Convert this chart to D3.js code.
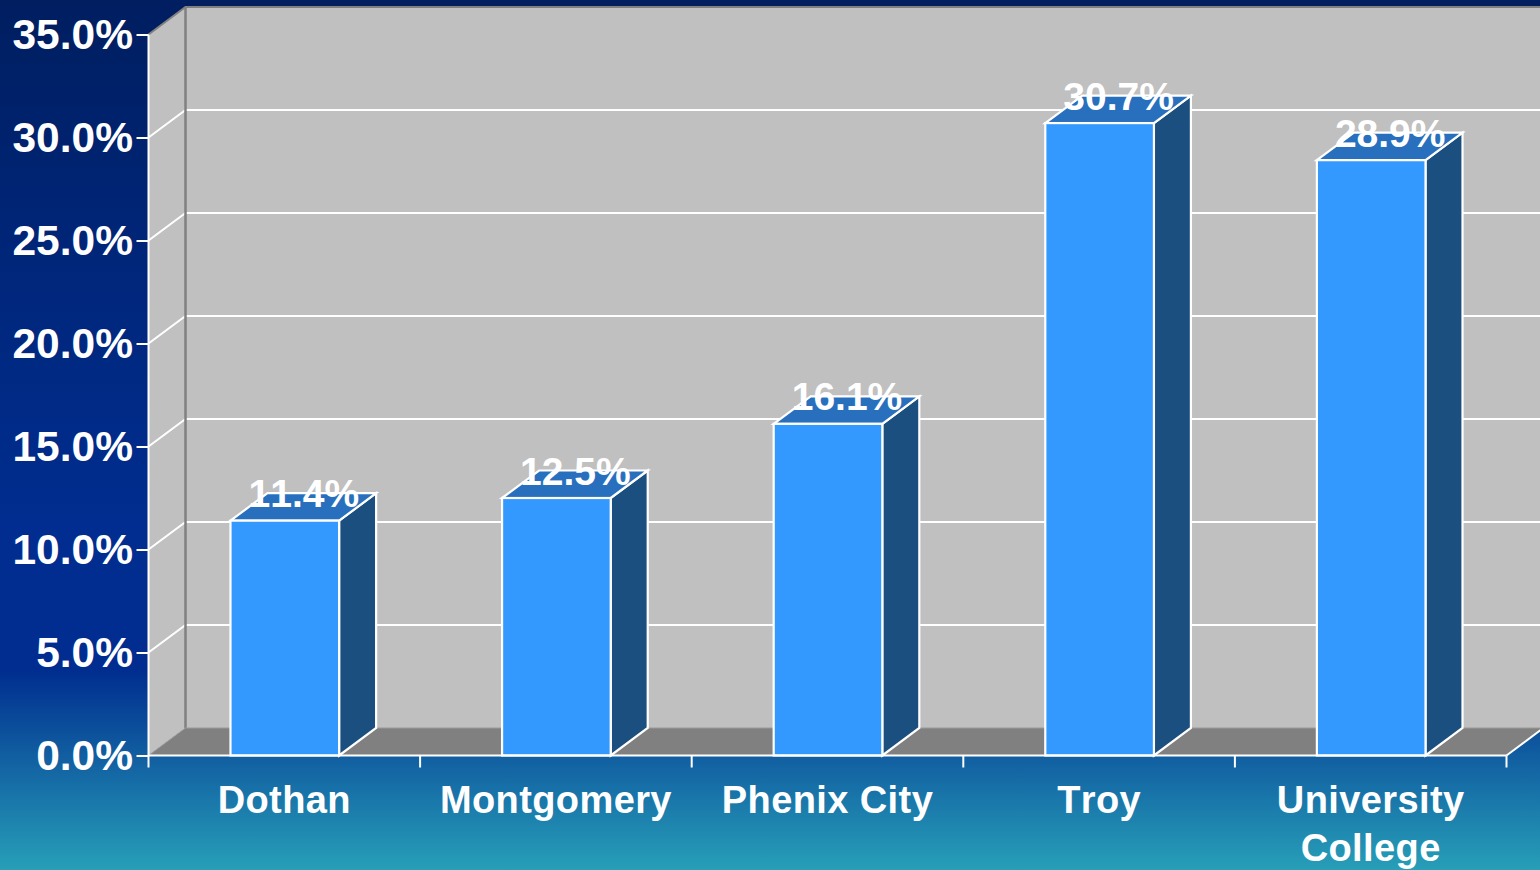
<!DOCTYPE html>
<html>
<head>
<meta charset="utf-8">
<script src="https://d3js.org/d3.v7.min.js"></script>
<style>
  html, body { margin: 0; padding: 0; overflow: hidden; }
  svg { display: block; }
  text { font-family: "Liberation Sans", Arial, sans-serif; font-weight: bold; fill: #fff; font-kerning: none; }
</style>
</head>
<body>
<div id="chart"></div>
<script>
var categories = ["Dothan", "Montgomery", "Phenix City", "Troy", "University College"];
var values = [11.4, 12.5, 16.1, 30.7, 28.9];
var labels = ["11.4%", "12.5%", "16.1%", "30.7%", "28.9%"];
var yTicks = [0, 5, 10, 15, 20, 25, 30, 35];

var width = 1540;
var height = 870;
var left = 148.5, right = 1506.5, top_ = 34.5, bottom = 755.5;
// depth of the fake 3d box
var dx = 37, dy = -27.5;

var svg = d3.select("#chart").append("svg")
  .attr("width", width)
  .attr("height", height);

var defs = svg.append("defs");
var grad = defs.append("linearGradient")
  .attr("id", "bg")
  .attr("x1", 0).attr("y1", 0).attr("x2", 0).attr("y2", 1);
[[0, "#001e60"], [0.3, "#00267a"], [0.6, "#002d8f"], [0.77, "#002d8f"], [1, "#279fb8"]].forEach(function(s) {
  grad.append("stop").attr("offset", s[0]).attr("stop-color", s[1]);
});

svg.append("rect").attr("width", width).attr("height", height).attr("fill", "url(#bg)");

var y = d3.scaleLinear().domain([0, 35]).range([bottom, top_]);
var x = d3.scaleBand().domain(categories).range([left, right]).paddingInner(0.6).paddingOuter(0.3);
var step = x.step();

var line = function(pts) { return "M" + pts.map(function(p) { return p[0] + "," + p[1]; }).join("L"); };

// walls
svg.append("path")
  .attr("d", line([[left, y(35)], [left + dx, y(35) + dy], [left + dx, y(0) + dy], [left, y(0)]]) + "Z")
  .attr("fill", "#c0c0c0");
svg.append("rect")
  .attr("x", left + dx).attr("y", y(35) + dy)
  .attr("width", width - left - dx).attr("height", y(0) - y(35))
  .attr("fill", "#c0c0c0");
// floor
svg.append("path")
  .attr("d", line([[left, y(0)], [left + dx, y(0) + dy], [right + dx, y(0) + dy], [right, y(0)]]) + "Z")
  .attr("fill", "#808080");

// gridlines, back wall and side wall
var gridTicks = yTicks.filter(function(d) { return d > 0 && d < 35; });
svg.selectAll(".grid").data(gridTicks).enter().append("path")
  .attr("class", "grid")
  .attr("d", function(d) { return line([[left, y(d)], [left + dx, y(d) + dy], [width, y(d) + dy]]); })
  .attr("fill", "none")
  .attr("stroke", "#fff")
  .attr("stroke-width", 2);

// grey edges of the box
svg.append("path")
  .attr("d", line([[left, y(35)], [left + dx, y(35) + dy], [width, y(35) + dy]]))
  .attr("fill", "none").attr("stroke", "#808080").attr("stroke-width", 2);
svg.append("path")
  .attr("d", line([[left + dx, y(35) + dy], [left + dx, y(0) + dy]]))
  .attr("fill", "none").attr("stroke", "#808080").attr("stroke-width", 2.5);
svg.append("path")
  .attr("d", line([[left + dx, y(0) + dy], [width, y(0) + dy]]))
  .attr("fill", "none").attr("stroke", "#9a9a9a").attr("stroke-width", 1);
svg.append("path")
  .attr("d", line([[left, y(0)], [left + dx, y(0) + dy]]))
  .attr("fill", "none").attr("stroke", "#a0a0a0").attr("stroke-width", 1);
svg.append("path")
  .attr("d", line([[right, y(0)], [right + dx, y(0) + dy]]))
  .attr("fill", "none").attr("stroke", "#fff").attr("stroke-width", 2);

// bars
var bars = svg.selectAll(".bar").data(values).enter().append("g").attr("class", "bar");
var barX = function(i) { return x(categories[i]) + 0.5; };
bars.append("path")
  .attr("d", function(d, i) {
    var x1 = barX(i) + x.bandwidth();
    return line([[x1, y(d)], [x1 + dx, y(d) + dy], [x1 + dx, y(0) + dy], [x1, y(0)]]) + "Z";
  })
  .attr("fill", "#1a4f80").attr("stroke", "#fff").attr("stroke-width", 2.2);
bars.append("path")
  .attr("d", function(d, i) {
    var x0 = barX(i), x1 = x0 + x.bandwidth();
    return line([[x0, y(d)], [x0 + dx, y(d) + dy], [x1 + dx, y(d) + dy], [x1, y(d)]]) + "Z";
  })
  .attr("fill", "#2870bd").attr("stroke", "#fff").attr("stroke-width", 2.2);
bars.append("rect")
  .attr("x", function(d, i) { return barX(i); })
  .attr("y", function(d) { return y(d); })
  .attr("width", x.bandwidth())
  .attr("height", function(d) { return y(0) - y(d); })
  .attr("fill", "#3399ff").attr("stroke", "#fff").attr("stroke-width", 2.2);

// y axis
var yAxis = d3.axisLeft(y)
  .tickValues(yTicks)
  .tickSize(12)
  .tickPadding(3)
  .tickFormat(function(d) { return d.toFixed(1) + "%"; });
var yG = svg.append("g").attr("transform", "translate(" + left + ",0)").call(yAxis);
yG.selectAll("text").attr("x", -15.5).attr("font-size", 42.5).attr("font-family", null).attr("dy", "0.325em").style("fill", "#fff");
yG.selectAll("line").attr("stroke", "#fff").attr("stroke-width", 2);
yG.select(".domain").attr("stroke", "#fff").attr("stroke-width", 2).attr("d", "M0," + y(35) + "V" + y(0));

// x axis, ticks sit on the band edges so labels and ticks are done apart
var xAxis = d3.axisBottom(x).tickSize(0).tickPadding(0);
var xG = svg.append("g").attr("transform", "translate(0," + bottom + ")").call(xAxis);
xG.select(".domain").attr("stroke", "#fff").attr("stroke-width", 2).attr("d", "M" + left + ",0H" + right);
xG.selectAll("text").attr("font-size", 38).attr("font-family", null).attr("letter-spacing", 0.4).style("fill", "#fff")
  .each(function(d) {
    var words = d === "University College" ? d.split(" ") : [d];
    var t = d3.select(this).text(null).attr("dy", 0);
    words.forEach(function(w, i) {
      t.append("tspan").attr("x", 0).attr("y", 57.5 + i * 48).text(w);
    });
  });
svg.append("g").selectAll("line").data(d3.range(categories.length + 1)).enter().append("line")
  .attr("x1", function(i) { return left + i * step; })
  .attr("x2", function(i) { return left + i * step; })
  .attr("y1", bottom).attr("y2", bottom + 12)
  .attr("stroke", "#fff").attr("stroke-width", 2);

// value labels sit over the top of each bar
svg.selectAll(".val").data(values).enter().append("text")
  .attr("class", "val")
  .attr("x", function(d, i) { return barX(i) + x.bandwidth() / 2 + dx / 2 + 0.5; })
  .attr("y", function(d) { return y(d) - 13.5; })
  .attr("text-anchor", "middle")
  .attr("font-size", 39)
  .text(function(d, i) { return labels[i]; });
</script>
</body>
</html>
